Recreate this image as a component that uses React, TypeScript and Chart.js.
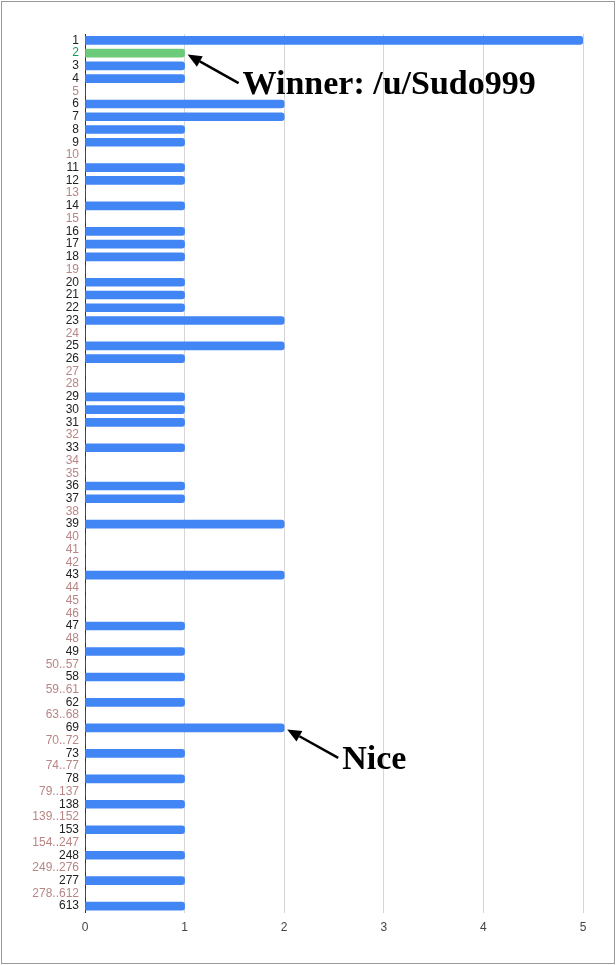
import React, { useRef, useEffect } from "react";
import Chart from "chart.js/auto";

// number of submissions per guessed value; gaps of zero are merged into ranges
const labels = [
  "1", "2", "3", "4", "5", "6", "7", "8", "9", "10",
  "11", "12", "13", "14", "15", "16", "17", "18", "19", "20",
  "21", "22", "23", "24", "25", "26", "27", "28", "29", "30",
  "31", "32", "33", "34", "35", "36", "37", "38", "39", "40",
  "41", "42", "43", "44", "45", "46", "47", "48", "49",
  "50..57", "58", "59..61", "62", "63..68", "69", "70..72", "73", "74..77", "78",
  "79..137", "138", "139..152", "153", "154..247", "248", "249..276", "277", "278..612", "613",
];
const counts = [
  5, 1, 1, 1, 0, 2, 2, 1, 1, 0,
  1, 1, 0, 1, 0, 1, 1, 1, 0, 1,
  1, 1, 2, 0, 2, 1, 0, 0, 1, 1,
  1, 0, 1, 0, 0, 1, 1, 0, 2, 0,
  0, 0, 2, 0, 0, 0, 1, 0, 1,
  0, 1, 0, 1, 0, 2, 0, 1, 0, 1,
  0, 1, 0, 1, 0, 1, 0, 1, 0, 1,
];
const xTicks = [0, 1, 2, 3, 4, 5];
const winnerLabel = "2";
const notes = [
  { label: "2", text: "Winner: /u/Sudo999" },
  { label: "69", text: "Nice" },
];

const BLUE = "#4285f4";
const GREEN = "#6ccb7b";

const notesPlugin = {
  id: "notes",
  afterDraw(chart: any) {
    const { ctx } = chart;
    const x = chart.scales.x;
    const y = chart.scales.y;
    ctx.save();
    notes.forEach((n) => {
      const i = labels.indexOf(n.label);
      const bx = x.getPixelForValue(counts[i]);
      const by = y.getPixelForValue(i);
      const tipX = bx + 3;
      const tipY = by + 1.5;
      const tailX = bx + 54;
      const tailY = by + 30;
      const ang = Math.atan2(tipY - tailY, tipX - tailX);
      const headLen = 14;
      const baseX = tipX - Math.cos(ang) * headLen;
      const baseY = tipY - Math.sin(ang) * headLen;
      ctx.strokeStyle = "#000";
      ctx.fillStyle = "#000";
      ctx.lineWidth = 2.5;
      ctx.beginPath();
      ctx.moveTo(tailX, tailY);
      ctx.lineTo(baseX, baseY);
      ctx.stroke();
      ctx.beginPath();
      ctx.moveTo(tipX, tipY);
      ctx.lineTo(baseX + Math.sin(ang) * 6, baseY - Math.cos(ang) * 6);
      ctx.lineTo(baseX - Math.sin(ang) * 6, baseY + Math.cos(ang) * 6);
      ctx.closePath();
      ctx.fill();
      ctx.font = "bold 34px 'Liberation Serif', serif";
      ctx.textBaseline = "alphabetic";
      ctx.textAlign = "left";
      ctx.fillText(n.text, bx + 58, by + 41);
    });
    ctx.restore();
  },
};

const App = () => {
  const chartRef = useRef<HTMLCanvasElement>(null);

  useEffect(() => {
    if (!chartRef.current) return;
    const ctx = chartRef.current.getContext("2d");
    if (!ctx) return;

    const chart = new Chart(ctx, {
      type: "bar",
      data: {
        labels,
        datasets: [
          {
            data: counts,
            backgroundColor: labels.map((l) => (l === winnerLabel ? GREEN : BLUE)),
            borderRadius: 3,
            barThickness: 8,
          },
        ],
      },
      options: {
        animation: false,
        responsive: true,
        maintainAspectRatio: false,
        indexAxis: "y",
        layout: { padding: { top: 34, right: 33, bottom: 0, left: 0 } },
        scales: {
          x: {
            min: 0,
            max: 5,
            afterBuildTicks: (s: any) => {
              s.ticks = xTicks.map((v) => ({ value: v }));
            },
            afterFit: (s: any) => {
              s.height = 52.5;
            },
            grid: {
              color: (c: any) => (c.tick && c.tick.value === 0 ? "rgba(0,0,0,0)" : "#d6d6d6"),
              drawTicks: false,
            },
            border: { display: false },
            ticks: {
              padding: 8,
              color: "#444",
              font: { family: "Arial, 'Liberation Sans', sans-serif", size: 12 },
            },
          },
          y: {
            afterFit: (s: any) => {
              s.width = 85;
            },
            grid: { display: false, drawTicks: false },
            border: { display: true, color: "#333", width: 1 },
            ticks: {
              autoSkip: false,
              padding: 6,
              color: (c: any) => {
                const l = labels[c.index];
                if (l === winnerLabel) return "#0f9d58";
                return counts[c.index] === 0 ? "#b98585" : "#222";
              },
              font: { family: "Arial, 'Liberation Sans', sans-serif", size: 12 },
            },
          },
        },
        plugins: {
          legend: { display: false },
          tooltip: { enabled: false },
        },
      },
      plugins: [notesPlugin],
    });

    return () => {
      chart.destroy();
    };
  }, []);

  return (
    <>
      <div
        style={{
          position: "fixed",
          left: 0,
          top: 0,
          width: 616,
          height: 965,
          background: "#fff",
        }}
      >
        <canvas ref={chartRef} />
      </div>
      <div
        style={{
          position: "fixed",
          left: 1,
          top: 1,
          width: 614,
          height: 963,
          boxSizing: "border-box",
          border: "1px solid #999",
          pointerEvents: "none",
        }}
      />
    </>
  );
};

export default App;
